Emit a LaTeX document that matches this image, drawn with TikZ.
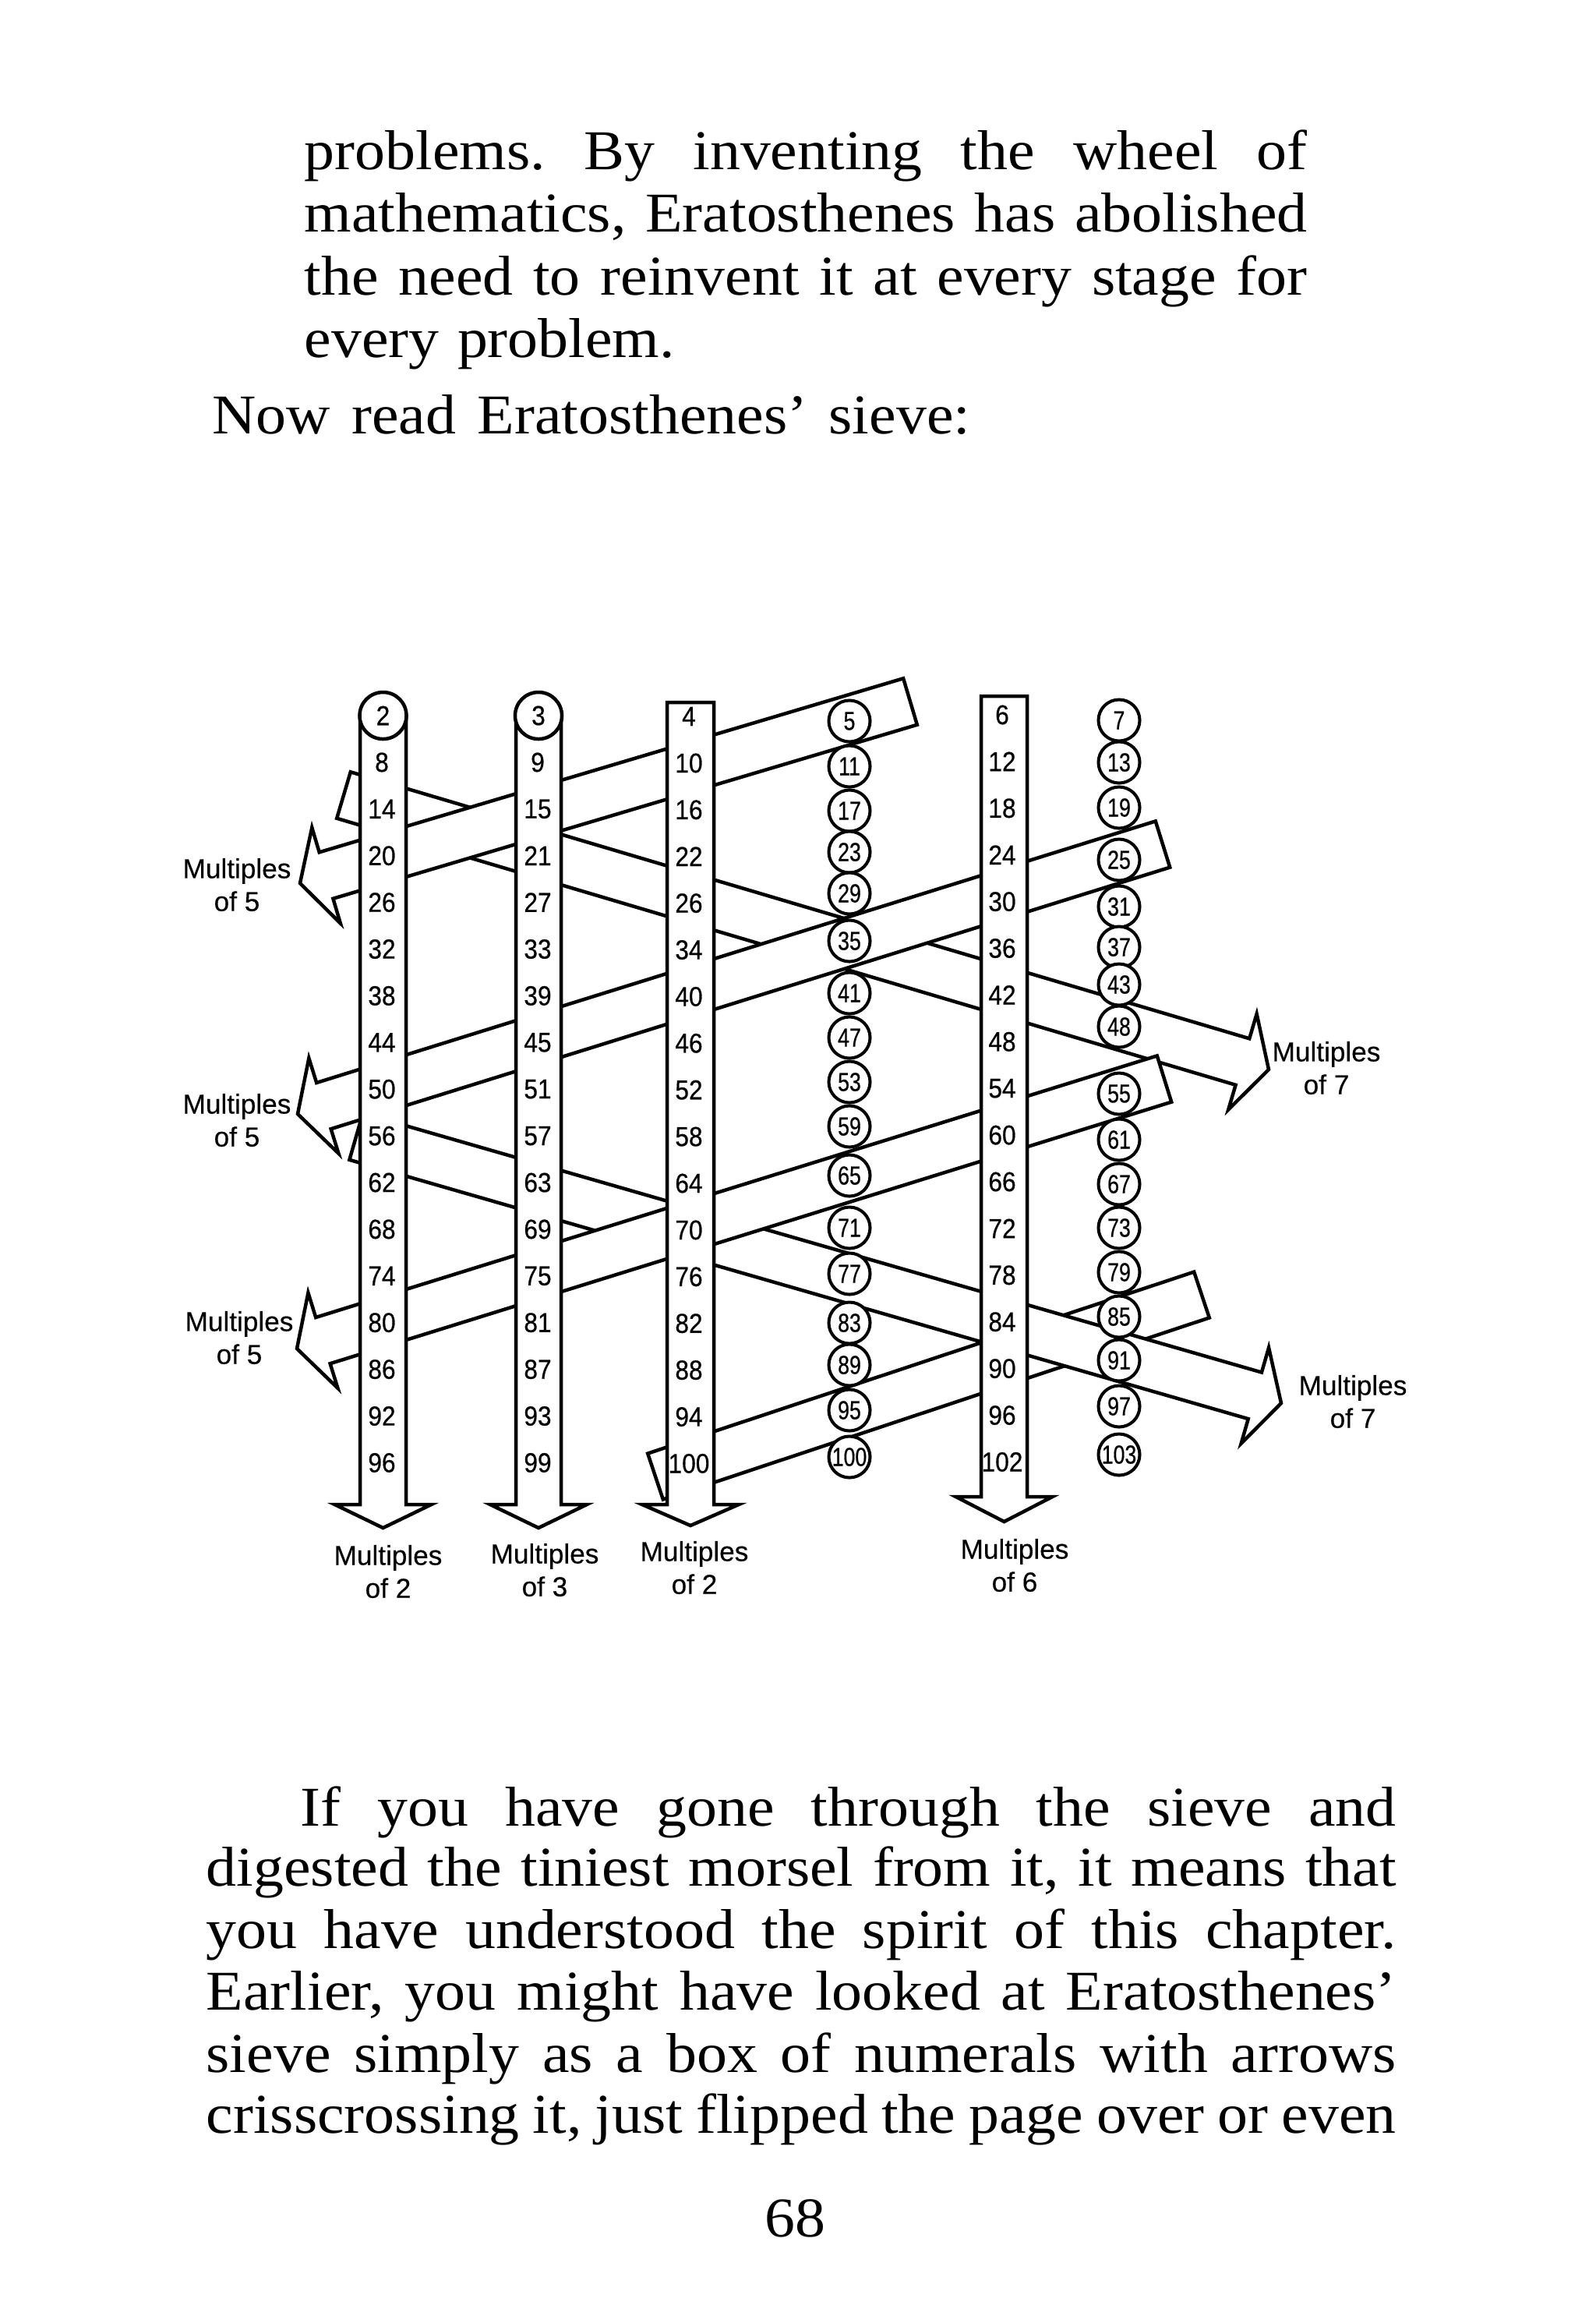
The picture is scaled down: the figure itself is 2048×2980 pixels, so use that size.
\documentclass[tikz,border=0pt]{standalone}
\usepackage{fontspec}
\setmainfont[FakeStretch=1.08]{Liberation Serif}
\newfontfamily\lblfont[FakeBold=0.3]{Liberation Sans}
\newfontfamily\numfont[FakeStretch=0.9, FakeBold=0.5]{Liberation Sans}
\newfontfamily\ringfont[FakeStretch=0.8, FakeBold=0.5]{Liberation Sans}
\usetikzlibrary{calc}
\frenchspacing

% wide arrow from #1 to the tip #2
\newcommand{\arrowband}[2]{%
  \path ($(#2)!0.35cm!(#1)$) coordinate (hb);
  \draw[band] ($(#1)!0.31cm!90:(#2)$) -- ($(hb)!0.31cm!90:(#2)$) -- ($(hb)!0.64cm!90:(#2)$)
    -- (#2) -- ($(hb)!0.64cm!-90:(#2)$) -- ($(hb)!0.31cm!-90:(#2)$) -- ($(#1)!0.31cm!-90:(#2)$) -- cycle;}
% wide strip from #1 to #2, square ends
\newcommand{\capband}[2]{%
  \draw[band] ($(#1)!0.31cm!90:(#2)$) -- ($(#2)!0.31cm!-90:(#1)$)
    -- ($(#2)!0.31cm!90:(#1)$) -- ($(#1)!0.31cm!-90:(#2)$) -- cycle;}
% column with arrow: x, half width, top, base, tip
\newcommand{\downcol}[5]{%
  \draw[colbox] ({#1-#2},#3) -- ({#1-#2},#4) -- ({#1-62},#4) -- (#1,#5)
    -- ({#1+62},#4) -- ({#1+#2},#4) -- ({#1+#2},#3) -- cycle;}

\begin{document}
\begin{tikzpicture}[
        x=0.01cm, y=-0.01cm,
        band/.style={draw, fill=white, line width=0.045cm, line join=miter},
        colbox/.style={draw, fill=white, line width=0.045cm, line join=miter},
        topring/.style={circle, draw, fill=white, line width=0.045cm, minimum size=0.6cm, inner sep=0pt, font=\numfont\fontsize{10pt}{12pt}\selectfont},
        ring/.style={circle, draw, fill=white, line width=0.04cm, minimum size=0.53cm, inner sep=0pt, font=\ringfont\fontsize{9.5pt}{11pt}\selectfont},
        num/.style={inner sep=0pt, font=\numfont\fontsize{10pt}{12pt}\selectfont},
        lbl/.style={inner sep=0pt, align=center, font=\lblfont\fontsize{10pt}{12pt}\selectfont},
        bodytext/.style={anchor=base west, inner sep=0pt, font=\fontsize{20.5pt}{24pt}\selectfont}
    ]
        \useasboundingbox (0,0) rectangle (2048,2980);
        \fill[white] (0,0) rectangle (2048,2980);

        % Text above
        \node[bodytext] (top1) at (390,217) {\makebox[12.86cm][s]{problems. By inventing the wheel of}};
        \node[bodytext] (top2) at (390,297) {\makebox[12.86cm][s]{mathematics, Eratosthenes has abolished}};
        \node[bodytext] (top3) at (390,378) {\makebox[12.86cm][s]{the need to reinvent it at every stage for}};
        \node[bodytext] (top4) at (390,458) {\makebox[4.75cm][s]{every problem.}};
        \node[bodytext] (top5) at (272,556) {\makebox[9.72cm][s]{Now read Eratosthenes’ sieve:}};

        % Band end points
        \coordinate (sevAs) at (441,1020);
        \coordinate (sevAe) at (1628,1372);
        \coordinate (sevBs) at (457,1458);
        \coordinate (sevBe) at (1644,1800);
        \coordinate (fivAs) at (1168,900);
        \coordinate (fivAe) at (385,1133);
        \coordinate (fivBs) at (1492,1083);
        \coordinate (fivBe) at (382,1429);
        \coordinate (fivCs) at (1494,1384);
        \coordinate (fivCe) at (381,1730);
        \coordinate (fivDs) at (1542,1661);
        \coordinate (fivDe) at (841,1894);

        % Crossing bands
        \arrowband{sevAs}{sevAe}
        \capband{fivDs}{fivDe}
        \arrowband{sevBs}{sevBe}
        \arrowband{fivAs}{fivAe}
        \arrowband{fivBs}{fivBe}
        \arrowband{fivCs}{fivCe}

        % Columns
        \downcol{491.5}{29.5}{918}{1930}{1960}
        \downcol{691}{29}{918}{1930}{1960}
        \downcol{886}{30}{901}{1930}{1957}
        \downcol{1288.5}{29.5}{893}{1920}{1952}
        \node[topring] (two0) at (491.5,918) {2};
        \node[topring] (three0) at (691,918) {3};

        % Numbers
        \foreach \v [count=\i] in {8,14,20,26,32,38,44,50,56,62,68,74,80,86,92,96}
            \node[num] (two\i) at (490,{918+59.9*\i}) {\v};
        \foreach \v [count=\i] in {9,15,21,27,33,39,45,51,57,63,69,75,81,87,93,99}
            \node[num] (three\i) at (690,{918+59.9*\i}) {\v};
        \foreach \v [count=\i from 0] in {4,10,16,22,26,34,40,46,52,58,64,70,76,82,88,94,100}
            \node[num] (four\i) at (884,{919+59.9*\i}) {\v};
        \foreach \v [count=\i from 0] in {6,12,18,24,30,36,42,48,54,60,66,72,78,84,90,96,102}
            \node[num] (six\i) at (1286,{917+59.9*\i}) {\v};
        \foreach \v/\y [count=\i] in {5/925,11/983,17/1040,23/1093,29/1146,35/1207,41/1274,47/1331,53/1388,
                59/1445,65/1508,71/1575,77/1634,83/1697,89/1751,95/1809,100/1869}
            \node[ring] (five\i) at (1090,\y) {\v};
        \foreach \v/\y [count=\i] in {7/924,13/978,19/1036,25/1103,31/1163,37/1215,43/1263,48/1317,55/1403,
                61/1462,67/1519,73/1575,79/1632,85/1689,91/1745,97/1804,103/1866}
            \node[ring] (seven\i) at (1436,\y) {\v};

        % Labels
        \node[lbl] (lblA) at (304,1135) {Multiples\\of 5};
        \node[lbl] (lblB) at (304,1437) {Multiples\\of 5};
        \node[lbl] (lblC) at (307,1716) {Multiples\\of 5};
        \node[lbl] (lblD) at (1702,1370) {Multiples\\of 7};
        \node[lbl] (lblE) at (1736,1798) {Multiples\\of 7};
        \node[lbl] (lblF) at (498,2016) {Multiples\\of 2};
        \node[lbl] (lblG) at (699,2014) {Multiples\\of 3};
        \node[lbl] (lblH) at (891,2011) {Multiples\\of 2};
        \node[lbl] (lblI) at (1302,2008) {Multiples\\of 6};

        % Text below
        \node[bodytext] (bot1) at (385,2342) {\makebox[14.05cm][s]{If you have gone through the sieve and}};
        \node[bodytext] (bot2) at (264,2419) {\makebox[15.26cm][s]{digested the tiniest morsel from it, it means that}};
        \node[bodytext] (bot3) at (264,2499) {\makebox[15.26cm][s]{you have understood the spirit of this chapter.}};
        \node[bodytext] (bot4) at (264,2578) {\makebox[15.26cm][s]{Earlier, you might have looked at Eratosthenes’}};
        \node[bodytext] (bot5) at (264,2658) {\makebox[15.26cm][s]{sieve simply as a box of numerals with arrows}};
        \node[bodytext] (bot6) at (264,2736) {\makebox[15.26cm][s]{crisscrossing it, just flipped the page over or even}};
        \node[bodytext, anchor=base] (pageno) at (1020,2869) {68};
    \end{tikzpicture}
\end{document}
